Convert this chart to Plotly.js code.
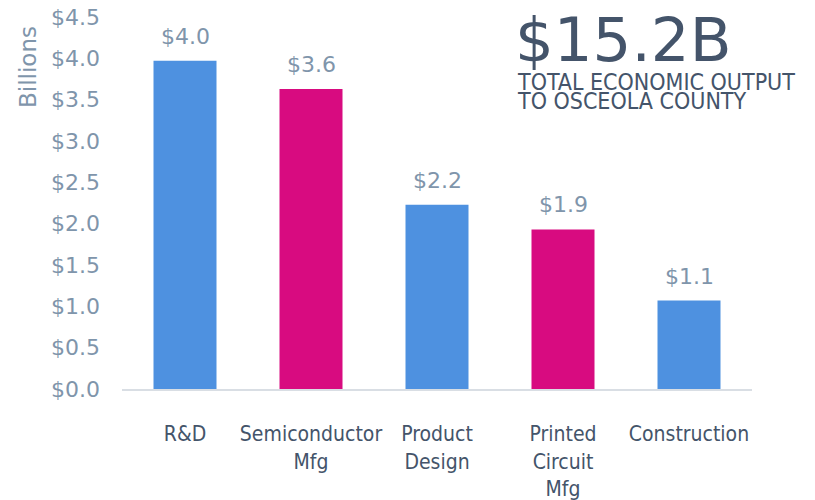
<!DOCTYPE html>
<html><head><meta charset="utf-8">
<script src="https://cdn.plot.ly/plotly-3.0.1.min.js"></script>
<style>html,body{margin:0;padding:0;background:#fff}#c{width:815px;height:500px}</style>
</head><body><div id="c"></div>
<script>
const categories = ["R&D", "Semiconductor<br>Mfg", "Product<br>Design", "Printed<br>Circuit<br>Mfg", "Construction"];
const values = [3.97, 3.63, 2.23, 1.93, 1.07];
const barColors = ["#4e91e0", "#d80b80", "#4e91e0", "#d80b80", "#4e91e0"];
const yTicks = [0, 0.5, 1, 1.5, 2, 2.5, 3, 3.5, 4, 4.5];
const yTickText = yTicks.map(v => "$" + v.toFixed(1));
const headline = "$15.2B";
const subLines = ["TOTAL ECONOMIC OUTPUT", "TO OSCEOLA COUNTY"];

const L = 122, R = 752, T = 17, B = 389;
const px = x => (x - L) / (R - L);
const py = y => (B - y) / (B - T);
const labelColor = "#7f95ab", darkColor = "#44546a";

const trace = {
  type: "bar",
  x: categories,
  y: values,
  marker: { color: barColors },
  width: 0.5,
  hoverinfo: "none"
};

const valueLabels = categories.map((c, i) => ({
  x: c, y: values[i], xref: "x", yref: "y",
  text: "$" + values[i].toFixed(1),
  showarrow: false, xanchor: "center", yanchor: "bottom", yshift: 10,
  font: { family: "DejaVu Sans", size: 22, color: labelColor }
}));

const layout = {
  width: 815, height: 500,
  margin: { l: L, r: 815 - R, t: T, b: 500 - B, pad: 0 },
  paper_bgcolor: "#fff", plot_bgcolor: "#fff",
  showlegend: false,
  xaxis: {
    showline: true, linecolor: "#d9dee4", linewidth: 2,
    ticks: "", showgrid: false, zeroline: false,
    tickfont: { family: "DejaVu Sans Condensed", size: 21, color: darkColor },
    ticklabelstandoff: 25
  },
  yaxis: {
    range: [0, 4.5], tickmode: "array", tickvals: yTicks, ticktext: yTickText,
    showgrid: false, zeroline: false, showline: false, ticks: "",
    tickfont: { family: "DejaVu Sans", size: 22, color: labelColor },
    ticklabelstandoff: 21
  },
  annotations: valueLabels.concat([
    { text: "Billions", xref: "paper", yref: "paper", x: px(28), y: py(67), textangle: -90,
      showarrow: false, xanchor: "center", yanchor: "middle",
      font: { family: "DejaVu Sans", size: 23, color: labelColor } },
    { text: headline, xref: "paper", yref: "paper", x: px(513), y: py(40),
      showarrow: false, xanchor: "left", yanchor: "middle",
      font: { family: "DejaVu Sans", size: 61, color: darkColor } },
    { text: subLines[0], xref: "paper", yref: "paper", x: px(515), y: py(82),
      showarrow: false, xanchor: "left", yanchor: "middle",
      font: { family: "DejaVu Sans Condensed", size: 23, color: darkColor } },
    { text: subLines[1], xref: "paper", yref: "paper", x: px(515), y: py(101),
      showarrow: false, xanchor: "left", yanchor: "middle",
      font: { family: "DejaVu Sans Condensed", size: 23, color: darkColor } }
  ])
};

Plotly.newPlot("c", [trace], layout, { staticPlot: true, displayModeBar: false });
</script></body></html>
